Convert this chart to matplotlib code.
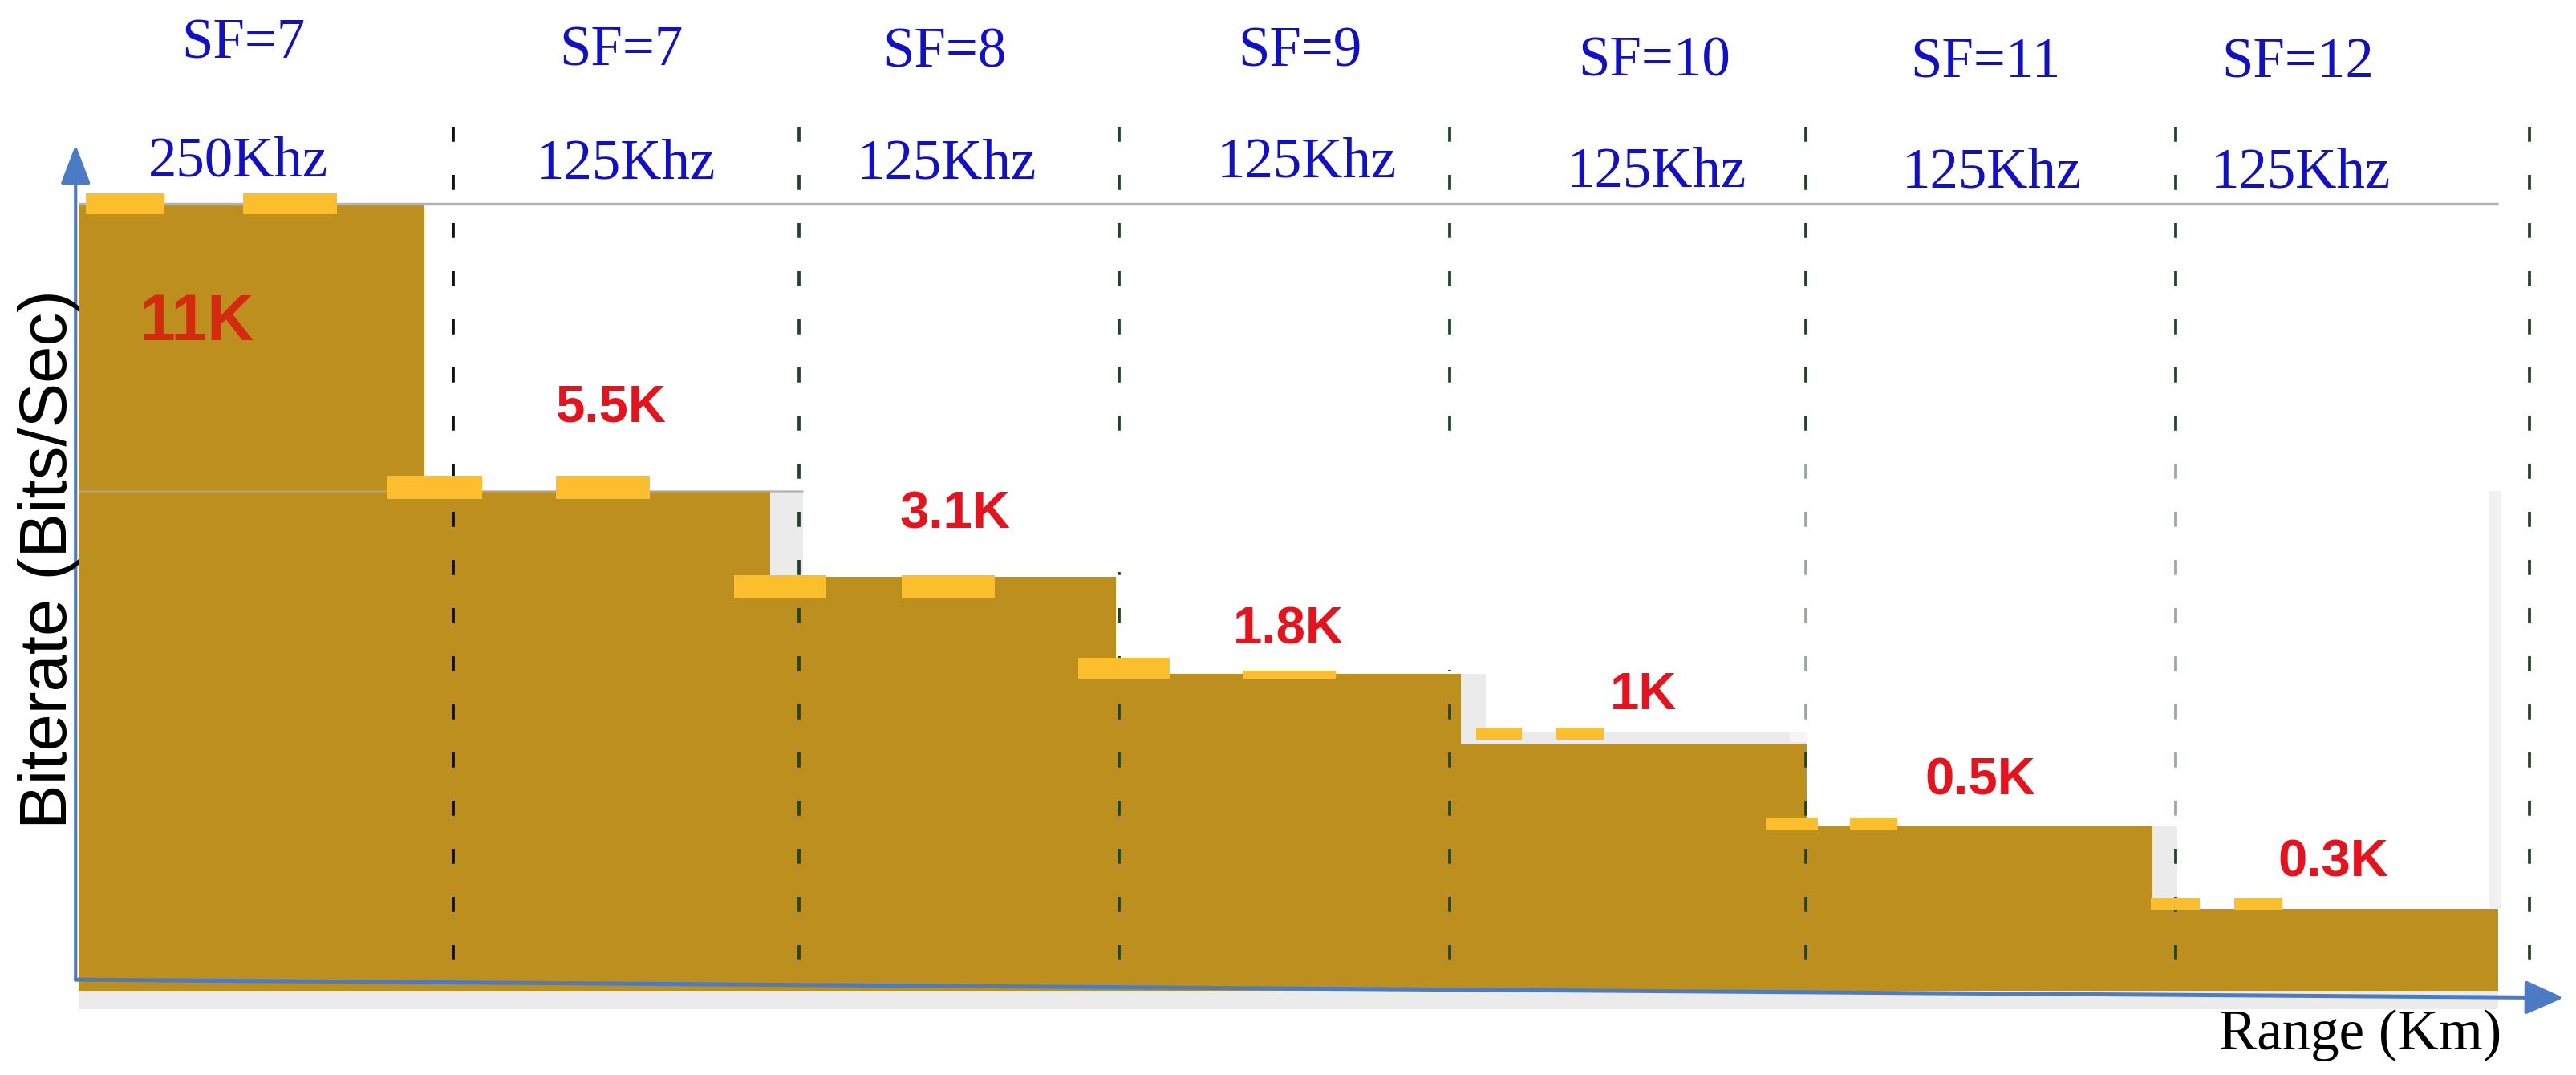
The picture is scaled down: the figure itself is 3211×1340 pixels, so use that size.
import numpy as np
import matplotlib
matplotlib.use("Agg")
import matplotlib.pyplot as plt
from matplotlib.patches import Rectangle, ArrowStyle

# ---------------- data ----------------
sf_labels = ["SF=7", "SF=7", "SF=8", "SF=9", "SF=10", "SF=11", "SF=12"]
bw_labels = ["250Khz", "125Khz", "125Khz", "125Khz", "125Khz", "125Khz", "125Khz"]
rate_labels = ["11K", "5.5K", "3.1K", "1.8K", "1K", "0.5K", "0.3K"]
# drawn (schematic) bar height of each step, in % of the tallest step
step_level = [100.0, 63.5, 52.6, 40.3, 31.3, 20.9, 10.4]
# range position where each step starts (each step is one range unit wide)
step_start = [0, 1, 2, 3, 4, 5, 6]
# dashed separators between the SF / bandwidth zones (range units)
divider_pos = [1.084, 2.083, 3.010, 3.966, 4.998, 6.068, 7.090]

# ---------------- layout ----------------
sf_x = [0.476, 1.570, 2.506, 3.533, 4.560, 5.516, 6.420]
sf_y = [120.3, 119.4, 119.2, 119.3, 118.1, 117.9, 117.9]
bw_x = [0.461, 1.583, 2.511, 3.552, 4.565, 5.535, 6.429]
bw_y = [105.3, 105.0, 105.0, 105.2, 104.0, 103.9, 103.9]
rate_x = [0.342, 1.541, 2.535, 3.500, 4.527, 5.502, 6.524]
rate_y = [84.8, 74.1, 60.5, 45.9, 37.6, 26.7, 16.3]

# yellow dash decorations on each step: (x offset from step start, length, y offset, thickness)
dash_specs = [
    [(0.020, 0.228, 0.0, 2.6), (0.475, 0.271, 0.0, 2.6)],
    [(-0.109, 0.276, 0.5, 3.0), (0.380, 0.271, 0.5, 3.0)],
    [(-0.105, 0.266, -1.25, 3.0), (0.380, 0.271, -1.25, 3.0)],
    [(-0.109, 0.266, 0.7, 2.7), (0.371, 0.266, -0.1, 1.1)],
    [(0.043, 0.133, 1.4, 1.5), (0.276, 0.138, 1.4, 1.5)],
    [(-0.119, 0.152, 0.3, 1.5), (0.124, 0.138, 0.3, 1.5)],
    [(-0.005, 0.143, 0.7, 1.5), (0.238, 0.138, 0.7, 1.5)],
]

BROWN = "#bd8f1f"
YELLOW = "#fbbf2d"
GHOST = "#ebebeb"
BLUE_TXT = "#1010cc"
RED_TXT = "#e8121c"
RED_DARK = "#d42a10"
AXIS_BLUE = "#4a7bc4"

fig = plt.figure(figsize=(32.12, 13.40), dpi=100)
ax = fig.add_axes([0, 0, 1, 1])
ax.set_xlim(-0.2283, 7.2281)
ax.set_ylim(-10.65, 125.9)
ax.axis("off")

# ---- faint grey artefacts of the original drawing ----
ax.add_patch(Rectangle((0, -2.3), 7, 2.3, fc=GHOST, ec="none", zorder=1))
ghost_strips = [  # (step index whose right edge it follows, width)
    (1, 0.095), (3, 0.07), (5, 0.072)]
for i, w in ghost_strips:
    ax.add_patch(Rectangle((step_start[i] + 1, step_level[i + 1]), w,
                           step_level[i] - step_level[i + 1],
                           fc=GHOST, ec="none", zorder=1))
ax.add_patch(Rectangle((step_start[6] + 0.975, step_level[6]), 0.035,
                       step_level[1] - step_level[6], fc="#f1f1f1", ec="none", zorder=1))
ax.add_patch(Rectangle((step_start[4], step_level[4]), 1.0, 1.7,
                       fc=GHOST, ec="none", zorder=1))

# ---- the step bars ----
ax.bar(step_start, step_level, width=1.0, align="edge", color=BROWN,
       edgecolor="none", zorder=2)

# grey reference lines
ax.hlines(step_level[0], 0, 7.0, colors="#b3b3b3", lw=2.5, zorder=2.6)
ax.hlines(step_level[1], 0, 2.095, colors="#a8a8a8", lw=1.8, alpha=0.8, zorder=2.6)

# ---- dashed separators ----
for k, xd in enumerate(divider_pos):
    ax.plot([xd, xd], [109.8, 0], color="#111111" if k == 0 else "#1f4426",
            ls=(0, (5, 11)), lw=2.7, zorder=3)

# white label backgrounds hiding parts of the separators
ax.add_patch(Rectangle((2.10, 53.2), 0.977, 14.2, fc="white", ec="none", zorder=3.2))
ax.add_patch(Rectangle((3.08, 40.8), 1.02, 26.6, fc="white", ec="none", zorder=3.2))
ax.add_patch(Rectangle((4.95, 31.6), 0.10, 36.0, fc="white", ec="none", alpha=0.55, zorder=3.2))
ax.add_patch(Rectangle((6.02, 21.2), 0.10, 46.4, fc="white", ec="none", alpha=0.55, zorder=3.2))

# ---- yellow dashes on the step tops ----
for i, specs in enumerate(dash_specs):
    for off, length, yoff, th in specs:
        ax.add_patch(Rectangle((step_start[i] + off, step_level[i] + yoff - th / 2),
                               length, th, fc=YELLOW, ec="none", zorder=4))

# ---- axes arrows ----
origin = (-0.0095, 1.46)
ax.annotate("", xy=(-0.0095, 107.5), xytext=origin,
            arrowprops=dict(arrowstyle=ArrowStyle("-|>", head_length=30, head_width=11.5),
                            mutation_scale=1, lw=3.0, color=AXIS_BLUE,
                            shrinkA=0, shrinkB=0), zorder=5)
ax.annotate("", xy=(7.19, -0.84), xytext=origin,
            arrowprops=dict(arrowstyle=ArrowStyle("-|>", head_length=29, head_width=13),
                            mutation_scale=1, lw=3.6, color=AXIS_BLUE,
                            shrinkA=0, shrinkB=0), zorder=5)

# ---- texts ----
for x, y, s in zip(sf_x, sf_y, sf_labels):
    ax.text(x, y, s, ha="center", va="center", fontsize=51, color=BLUE_TXT,
            family="Liberation Serif", zorder=6)
for x, y, s in zip(bw_x, bw_y, bw_labels):
    ax.text(x, y, s, ha="center", va="center", fontsize=51, color=BLUE_TXT,
            family="Liberation Serif", zorder=6)
for k, (x, y, s) in enumerate(zip(rate_x, rate_y, rate_labels)):
    if k == 0:
        ax.text(x, y, s, ha="center", va="center", fontsize=58, color=RED_DARK,
                family="Liberation Sans", weight="heavy", zorder=6)
    else:
        ax.text(x, y, s, ha="center", va="center", fontsize=47, color=RED_TXT,
                family="Liberation Sans", weight="bold", zorder=6)

ax.text(-0.0856, 54.9, "Biterate (Bits/Sec)", rotation=90, ha="center", va="center",
        fontsize=60, color="black", family="Liberation Sans", zorder=6)
ax.text(7.01, -5.6, "Range (Km)", ha="right", va="center", fontsize=51,
        color="black", family="Liberation Serif", zorder=6)

fig.savefig("out.png", dpi=100, facecolor="white")
